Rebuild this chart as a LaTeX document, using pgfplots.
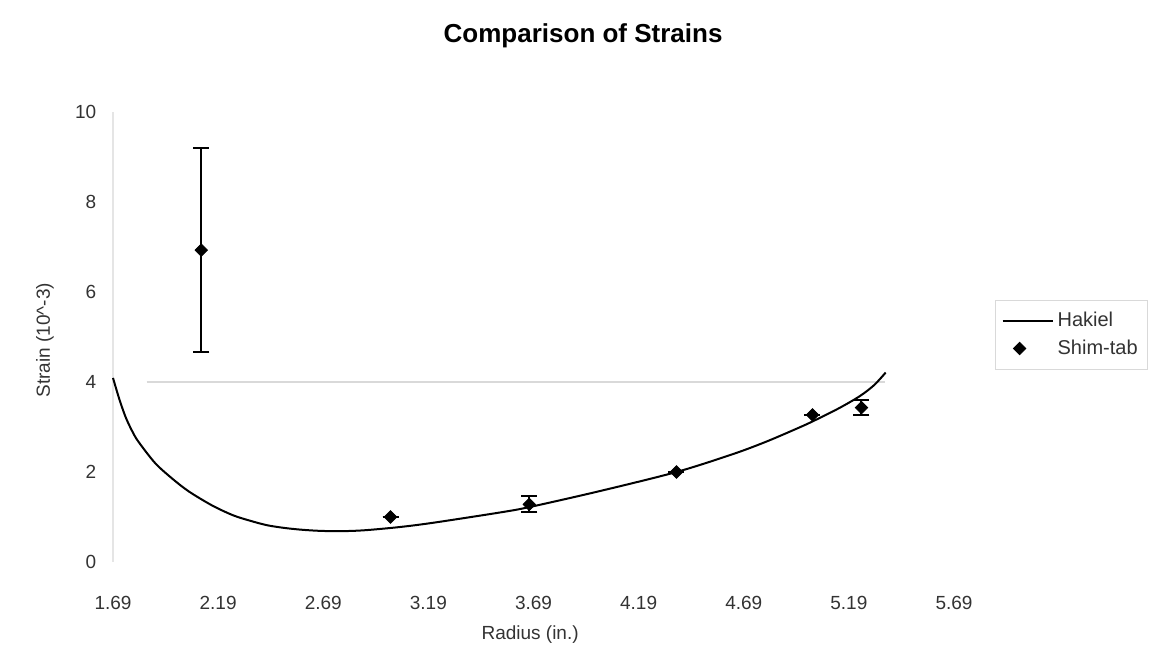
\documentclass[border=0pt]{standalone}
\usepackage{fontspec}
\setmainfont{Liberation Sans}
\usepackage{pgfplots}
\pgfplotsset{compat=1.18}
\pgfplotsset{linelegend/.style={legend image code/.code={\draw[##1] (0pt,0pt) -- (25pt,0pt);}}}
\begin{document}
\fontsize{9.5}{11}\selectfont
\begin{tikzpicture}
\useasboundingbox (-56.5pt,-53.5pt) rectangle (519.5pt,281pt);
\begin{axis}[
  at={(0,0)}, anchor=south west,
  scale only axis, width=420.5pt, height=225pt,
  xmin=1.69, xmax=5.69, ymin=0, ymax=10,
  xtick={1.69,2.19,2.69,3.19,3.69,4.19,4.69,5.19,5.69},
  xticklabels={1.69,2.19,2.69,3.19,3.69,4.19,4.69,5.19,5.69},
  ytick={0,2,4,6,8,10},
  axis lines*=left,
  x axis line style={draw=none},
  y axis line style={draw=gray!20, line width=0.6pt},
  major tick length=0pt,
  /pgf/number format/assume math mode=true,
  tick label style={font=\fontsize{9.5}{11}\selectfont, text=black!80},
  xticklabel style={yshift=-14pt},
  yticklabel style={xshift=-5pt},
  xlabel={Radius (in.)},
  ylabel={Strain (10\^{}-3)},
  label style={font=\fontsize{9.5}{11}\selectfont, text=black!80},
  xlabel style={at={(axis description cs:0.496,-0.162)}, anchor=center},
  ylabel style={at={(axis description cs:-0.081,0.493)}, anchor=center},
  title={Comparison of Strains},
  title style={at={(axis description cs:0.559,1.143)}, anchor=center, font=\bfseries\fontsize{13}{15}\selectfont},
  legend style={at={(1.049,0.582)}, anchor=north west, draw=gray!30, font=\fontsize{10}{12}\selectfont, text=black!80, inner xsep=3pt, inner ysep=4pt, row sep=1pt, cells={anchor=west}},
  clip=false,
]
\addplot[gray!30, line width=0.8pt, forget plot] coordinates {(1.85,4) (5.36,4)};
\addplot[black, line width=1pt, smooth, tension=0.5, linelegend]
  coordinates {
  (1.69,4.09) (1.72,3.62) (1.75,3.22) (1.78,2.92) (1.81,2.68) (1.89,2.20)
  (1.97,1.86) (2.05,1.57) (2.16,1.26) (2.26,1.04) (2.34,0.92) (2.42,0.82)
  (2.50,0.76) (2.58,0.72) (2.66,0.695) (2.74,0.685) (2.82,0.69) (2.90,0.71)
  (3.05,0.775) (3.21,0.87) (3.53,1.10) (3.67,1.22) (4.00,1.57) (4.37,2.00)
  (4.64,2.40) (4.80,2.68) (4.95,2.98) (5.02,3.13) (5.14,3.41) (5.24,3.68)
  (5.31,3.93) (5.365,4.21)
  };
\addlegendentry{Hakiel}
\addplot[only marks, mark=square*, mark size=2.2pt, mark options={rotate=45, black},
  error bars/.cd, y dir=both, y explicit,
  error bar style={line width=1pt, black},
  error mark options={rotate=90, mark size=4pt, line width=1pt, black}]
  table[x=x, y=y, y error=e] {
  x     y     e
  2.11  6.93  2.27
  3.01  1.00  0
  3.67  1.28  0.18
  4.37  2.00  0
  5.017 3.27  0
  5.25  3.43  0.17
  };
\addlegendentry{Shim-tab}
\end{axis}
\end{tikzpicture}
\end{document}
